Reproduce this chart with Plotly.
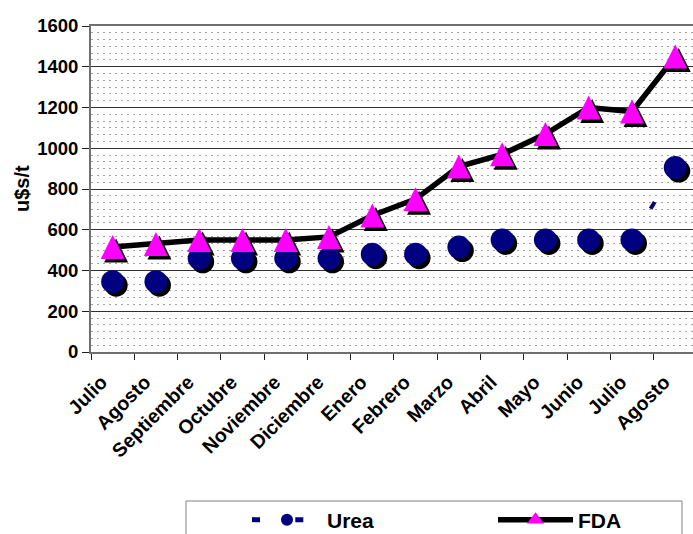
import plotly.graph_objects as go

# ---- data ----
months = ["Julio", "Agosto", "Septiembre", "Octubre", "Noviembre", "Diciembre",
          "Enero", "Febrero", "Marzo", "Abril", "Mayo", "Junio", "Julio", "Agosto"]
urea = [345, 345, 460, 460, 460, 460, 480, 480, 515, 550, 550, 550, 550, 905]
fda = [515, 530, 550, 550, 550, 565, 670, 750, 910, 970, 1070, 1200, 1180, 1450]
y_ticks = [0, 200, 400, 600, 800, 1000, 1200, 1400, 1600]

# ---- geometry / style ----
W, H = 693, 534
ML, MR, MT, MB = 91, 0, 26, 182
plot_w = W - ML - MR
plot_h = H - MT - MB
xr = [-0.5, 13.41]
yr = [0, 1600]
SH = 3.5  # shadow offset in px
dx = SH * (xr[1] - xr[0]) / plot_w
dy = SH * (yr[1] - yr[0]) / plot_h

FONT = "Liberation Sans, Arial, sans-serif"
NAVY = "#000080"
MAGENTA = "#FF00FF"
CIRCLE = 23
TRI = 24

idx = list(range(len(months)))

fig = go.Figure()

# anchor trace for the visible base axes (invisible)
fig.add_trace(go.Scatter(x=idx, y=fda, mode="markers", marker=dict(opacity=0),
                         showlegend=False, hoverinfo="skip"))

# shadows (on shifted overlay axes)
fig.add_trace(go.Scatter(x=idx, y=urea, xaxis="x2", yaxis="y2", mode="markers",
                         marker=dict(symbol="circle", size=CIRCLE, color="black"),
                         showlegend=False, hoverinfo="skip"))
fig.add_trace(go.Scatter(x=idx, y=fda, xaxis="x2", yaxis="y2", mode="markers",
                         marker=dict(symbol="arrow-down", angle=180, standoff=TRI / 2,
                                     size=TRI, color="black"),
                         showlegend=False, hoverinfo="skip"))

# real series
fig.add_trace(go.Scatter(x=idx, y=urea, xaxis="x3", yaxis="y3", name="Urea",
                         mode="lines+markers", legend="legend",
                         line=dict(color=NAVY, width=4, dash="8px,35.3px"),
                         marker=dict(symbol="circle", size=CIRCLE, color=NAVY)))
fig.add_trace(go.Scatter(x=idx, y=fda, xaxis="x3", yaxis="y3", name="FDA",
                         mode="lines+markers", showlegend=False,
                         line=dict(color="black", width=5.5),
                         marker=dict(symbol="arrow-down", angle=180, standoff=TRI / 2,
                                     size=TRI, color=MAGENTA)))
# legend entry for FDA (triangle symbol)
fig.add_trace(go.Scatter(x=[None], y=[None], xaxis="x3", yaxis="y3", name="FDA",
                         mode="lines+markers", legend="legend2",
                         line=dict(color="black", width=5.5),
                         marker=dict(symbol="triangle-up", size=15, color=MAGENTA)))

AX = "#707070"
GRID = "#303030"
LEG_Y = (MT + plot_h - 520) / plot_h

fig.update_layout(
    width=W, height=H,
    margin=dict(l=ML, r=MR, t=MT, b=MB, autoexpand=False),
    paper_bgcolor="white", plot_bgcolor="white",
    font=dict(family=FONT, color="black"),
    xaxis=dict(range=xr, tickmode="array", tickvals=idx, ticktext=months,
               tickangle=-45, ticks="", showgrid=False, zeroline=False,
               showline=True, linecolor=AX, linewidth=2, mirror=True,
               ticklabelstandoff=9, ticklabelshift=-11,
               tickfont=dict(size=19.5, weight="bold", family=FONT),
               minor=dict(ticks="outside", tick0=-0.5, dtick=1, ticklen=6,
                          tickcolor="#202020", tickwidth=1, showgrid=False)),
    yaxis=dict(range=yr, tickmode="array", tickvals=y_ticks, ticks="outside",
               ticklen=7, tickcolor="#202020", showgrid=True, gridcolor=GRID,
               gridwidth=1, zeroline=False, showline=True, linecolor=AX, linewidth=2,
               tickangle=0, ticksuffix="\u00a0",
               tickfont=dict(size=18.5, weight="bold", family=FONT),
               minor=dict(tick0=0, dtick=200 / 6, showgrid=True, gridcolor="#a0a0a0",
                          griddash="2px,4px", gridwidth=1, ticks="")),
    xaxis2=dict(overlaying="x", anchor="y2", range=[xr[0] - dx, xr[1] - dx], visible=False),
    yaxis2=dict(overlaying="y", anchor="x2", range=[yr[0] + dy, yr[1] + dy], visible=False),
    xaxis3=dict(overlaying="x", anchor="y3", range=xr, visible=False),
    yaxis3=dict(overlaying="y", anchor="x3", range=yr, visible=False),
    legend=dict(orientation="h", x=(247 - ML) / plot_w, y=LEG_Y, xanchor="left", yanchor="middle",
                itemwidth=70, itemsizing="constant",
                font=dict(size=21, weight="bold", family=FONT),
                bgcolor="rgba(0,0,0,0)", borderwidth=0),
    legend2=dict(orientation="h", x=(493 - ML) / plot_w, y=LEG_Y, xanchor="left", yanchor="middle",
                 itemwidth=75,
                 font=dict(size=21, weight="bold", family=FONT),
                 bgcolor="rgba(0,0,0,0)", borderwidth=0),
    showlegend=True,
    shapes=[dict(type="rect", xref="paper", yref="paper",
                 x0=(186 - ML) / plot_w, x1=(682 - ML) / plot_w,
                 y0=(MT + plot_h - 501) / plot_h, y1=(MT + plot_h - 545) / plot_h,
                 line=dict(color="#808080", width=1), fillcolor="rgba(0,0,0,0)")],
    annotations=[dict(text="u$s/t", xref="paper", yref="paper",
                      x=(22 - ML) / plot_w, y=0.5, xanchor="center", yanchor="middle",
                      textangle=-90, showarrow=False,
                      font=dict(size=20, weight="bold", family=FONT))],
)

fig.write_html("out.html", config={"displayModeBar": False},
               post_script="document.body.style.margin='0';")
